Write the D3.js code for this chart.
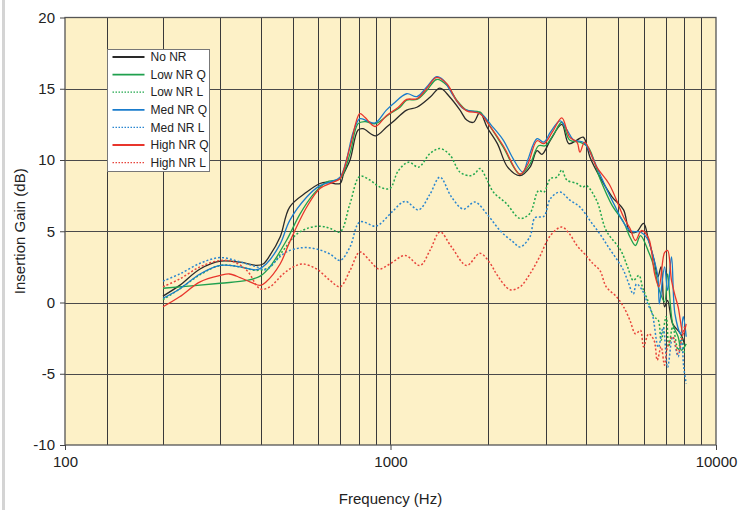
<!DOCTYPE html>
<html>
<head>
<meta charset="utf-8">
<script src="https://cdn.jsdelivr.net/npm/d3@7"></script>
<style>
  body { margin: 0; background: #fff; }
  svg { display: block; font-family: "Liberation Sans", Arial, sans-serif; }
</style>
</head>
<body>
<div id="container"><svg></svg></div>
<script>
const width = 752, height = 510;

// tick labels
const xTicks = [100, 1000, 10000];
const yTicks = [-10, -5, 0, 5, 10, 15, 20];
const xGrid = [134.6, 200, 300, 400, 500, 600, 700, 800, 900, 1000,
               2000, 3000, 4000, 5000, 6000, 7000, 8000, 9000];

// series: [frequency (Hz), insertion gain (dB)]
const noNR = [[200,0.45],[225,1.2],[260,2.35],[300,2.9],[345,2.83],[388,2.6],[406,2.7],[426,3.3],[458,4.6],[490,6.7],[553,7.75],[607,8.35],[636,8.45],[700,8.35],[717,9.0],[751,10.0],[795,12.1],[823,12.2],[900,11.7],[971,12.3],[1020,12.7],[1121,13.5],[1205,13.7],[1322,14.4],[1419,15.05],[1523,14.4],[1635,13.5],[1714,12.8],[1800,12.65],[1883,13.35],[1980,12.3],[2130,11.15],[2290,9.5],[2499,8.9],[2683,9.5],[2820,10.65],[2920,10.4],[3100,11.4],[3360,12.5],[3530,11.15],[3740,11.4],[3910,11.6],[4100,10.2],[4400,8.8],[4800,7.4],[5200,6.5],[5440,4.95],[5700,4.95],[5990,5.55],[6210,4.35],[6450,3.0],[6630,1.8],[6780,2.5],[6950,-0.3],[7100,0.15],[7360,-1.5],[7790,-2.2],[8000,-2.9]];

const lowQ = [[200,1.0],[300,1.35],[362,1.55],[398,1.85],[426,2.5],[479,4.35],[527,6.2],[580,7.6],[636,8.45],[700,8.7],[751,10.45],[795,12.55],[834,12.7],[897,12.55],[995,13.25],[1070,13.7],[1121,14.2],[1205,14.25],[1290,14.85],[1386,15.65],[1490,15.25],[1598,14.2],[1714,13.5],[1883,13.35],[2030,12.3],[2220,10.9],[2500,9.0],[2680,9.7],[2850,11.0],[2990,11.0],[3170,11.8],[3360,12.65],[3550,11.4],[3820,11.25],[4050,10.9],[4400,8.7],[4800,6.8],[5200,5.65],[5440,4.6],[5660,4.0],[5860,4.7],[6210,3.55],[6450,2.5],[6700,0.85],[6950,0.05],[7100,2.0],[7360,-1.5],[7650,-2.4],[7830,-3.35],[8100,-2.9]];

const lowL = [[200,0.2],[225,0.95],[260,1.95],[300,2.6],[345,2.5],[388,2.25],[426,2.5],[468,3.65],[515,4.8],[564,5.25],[614,5.35],[652,5.2],[700,4.95],[751,6.95],[805,8.85],[863,8.6],[928,8.1],[995,8.0],[1057,9.25],[1137,9.85],[1220,9.5],[1322,10.45],[1419,10.8],[1523,10.35],[1635,9.15],[1754,8.9],[1817,9.05],[1883,9.4],[1980,8.6],[2070,7.75],[2270,6.95],[2500,5.9],[2680,6.25],[2850,7.85],[2960,7.75],[3100,8.7],[3250,8.8],[3360,9.3],[3480,8.6],[3740,8.35],[3890,8.1],[4000,8.2],[4300,7.15],[4600,5.05],[5100,3.65],[5350,2.5],[5570,1.55],[5800,1.9],[5940,1.1],[6170,0.15],[6450,-1.0],[6650,-1.25],[6780,-2.65],[7030,-1.0],[7160,-3.1],[7360,-1.7],[7650,-3.35],[7830,-2.4],[8000,-3.6]];

const medQ = [[200,0.3],[225,0.95],[260,2.0],[300,2.6],[345,2.5],[388,2.3],[415,2.7],[458,4.1],[490,5.75],[553,7.4],[607,8.2],[652,8.45],[700,8.8],[732,10.0],[768,11.95],[805,12.9],[846,12.75],[897,12.6],[971,13.5],[1020,13.95],[1121,14.65],[1205,14.45],[1290,15.1],[1386,15.85],[1455,15.6],[1560,14.5],[1675,13.6],[1840,13.35],[1930,13.1],[2030,12.5],[2220,11.4],[2380,10.1],[2550,9.15],[2640,10.0],[2820,11.5],[2960,11.25],[3100,11.95],[3320,12.75],[3490,12.1],[3650,11.4],[3910,11.25],[4100,10.55],[4400,9.0],[4800,7.15],[5440,5.05],[5860,4.95],[6150,4.5],[6450,3.0],[6630,1.8],[6700,-0.1],[6950,2.5],[7100,0.85],[7300,3.2],[7480,-0.8],[7790,-2.2],[7930,-1.0],[8100,-2.4]];

const medL = [[200,1.5],[225,2.0],[260,2.75],[300,3.15],[345,2.85],[388,2.5],[415,2.3],[445,2.95],[479,3.55],[538,3.85],[593,3.75],[652,3.4],[700,2.95],[751,3.9],[805,5.65],[897,5.35],[928,5.5],[1020,6.45],[1110,7.1],[1220,6.5],[1322,7.6],[1419,8.8],[1540,7.4],[1675,6.55],[1817,7.05],[1980,6.2],[2170,5.05],[2380,4.25],[2500,3.9],[2680,4.6],[2780,5.95],[2960,6.05],[3100,7.3],[3320,7.75],[3550,7.2],[3820,6.7],[4100,5.75],[4400,4.8],[4700,3.8],[5000,2.9],[5200,2.25],[5350,1.55],[5570,0.6],[5700,1.3],[5940,0.85],[6170,-0.1],[6370,-0.8],[6650,-3.15],[6880,-1.75],[7100,-4.55],[7360,-2.4],[7650,-3.8],[7830,-2.65],[7960,-4.55],[8100,-5.7]];

const highQ = [[200,-0.3],[225,0.4],[260,1.45],[300,1.9],[320,2.0],[345,1.75],[370,1.45],[398,1.2],[415,1.45],[458,2.7],[490,4.25],[553,6.7],[607,8.0],[668,8.45],[700,8.7],[751,10.9],[805,13.25],[834,13.0],[897,12.35],[971,13.1],[1057,13.7],[1121,14.25],[1205,14.3],[1290,15.0],[1386,15.8],[1490,15.35],[1598,14.15],[1714,13.45],[1883,13.25],[2030,12.3],[2220,11.0],[2500,9.0],[2640,9.7],[2820,11.35],[2960,11.15],[3140,11.95],[3360,12.95],[3550,11.6],[3740,11.25],[3820,10.55],[3950,11.25],[4300,9.5],[4700,8.3],[5200,6.0],[5440,5.2],[5660,4.35],[5900,5.05],[6210,4.5],[6480,2.0],[6680,1.1],[6950,3.5],[7100,3.65],[7300,1.55],[7480,0.5],[7650,-0.3],[7930,-2.2],[8100,-1.5]];

const highL = [[200,1.1],[225,1.65],[260,2.5],[300,2.95],[330,2.85],[362,2.25],[398,0.95],[426,1.1],[468,2.0],[503,2.5],[538,2.7],[593,2.35],[652,1.55],[700,1.1],[751,2.25],[805,3.55],[863,2.95],[920,2.35],[995,2.7],[1110,3.3],[1232,2.6],[1322,3.65],[1419,4.95],[1540,3.9],[1714,2.6],[1883,3.45],[2030,2.7],[2130,1.9],[2330,0.9],[2500,1.1],[2680,2.0],[2870,3.2],[3100,4.7],[3360,5.3],[3550,4.8],[3740,4.0],[3950,3.4],[4200,2.7],[4400,2.25],[4600,1.1],[4950,0.4],[5200,-0.3],[5440,-1.25],[5660,-2.2],[5860,-1.95],[5990,-3.1],[6210,-2.2],[6450,-2.65],[6600,-4.05],[6780,-3.1],[6950,-4.4],[7100,-3.1],[7360,-2.4],[7650,-3.6],[7830,-2.65],[8000,-1.7]];

const seriesNames = ['No NR', 'Low NR Q', 'Low NR L', 'Med NR Q', 'Med NR L', 'High NR Q', 'High NR L'];
const seriesData = [noNR, lowQ, lowL, medQ, medL, highQ, highL];
const seriesColors = ['#2a2a2a', '#1fa04e', '#22a84e', '#1a7ccc', '#2a86d0', '#e8352c', '#e8453c'];
const seriesDash = [null, null, '2,2', null, '2,2', null, '2,2'];

let padding = { left: 65, right: 36, top: 17.5, bottom: 65 };

let svg = d3.select('#container').select('svg')
    .attr('width', width)
    .attr('height', height);

// grey strip on the left edge
svg.append('rect')
    .attr('x', 2).attr('y', 0)
    .attr('width', 3).attr('height', height)
    .attr('fill', '#d4d4d4');

let x = d3.scaleLog()
    .domain([100, 10000])
    .range([padding.left, width - padding.right]);
let y = d3.scaleLinear()
    .domain([-10, 20])
    .range([height - padding.bottom, padding.top]);

// plot background
svg.append('rect')
    .attr('x', x(100)).attr('y', y(20))
    .attr('width', x(10000) - x(100))
    .attr('height', y(-10) - y(20))
    .attr('fill', '#fdf1c7');

// grid
let grid = svg.append('g');
grid.selectAll('line.v')
    .data(xGrid)
    .enter().append('line')
    .attr('x1', d => Math.round(x(d)) + 0.5).attr('x2', d => Math.round(x(d)) + 0.5)
    .attr('y1', y(20)).attr('y2', y(-10))
    .attr('stroke', '#3a3a3a').attr('stroke-width', 1);
grid.selectAll('line.h')
    .data(yTicks.filter(d => d > -10 && d < 20))
    .enter().append('line')
    .attr('x1', x(100)).attr('x2', x(10000))
    .attr('y1', d => Math.round(y(d)) + 0.5).attr('y2', d => Math.round(y(d)) + 0.5)
    .attr('stroke', '#4a4a4a').attr('stroke-width', 1.2);

// frame
svg.append('rect')
    .attr('x', x(100)).attr('y', y(20))
    .attr('width', x(10000) - x(100))
    .attr('height', y(-10) - y(20))
    .attr('fill', 'none')
    .attr('stroke', '#555').attr('stroke-width', 1.3);

// axes
let axis_x = d3.axisBottom(x)
    .tickValues(xTicks)
    .tickFormat(d => d)
    .tickSize(5)
    .tickPadding(6);
let gx = svg.append('g')
    .attr('transform', `translate(0, ${y(-10)})`)
    .call(axis_x)
    .attr('font-family', '"Liberation Sans", Arial, sans-serif')
    .attr('font-size', 15);
gx.select('.domain').remove();
gx.selectAll('line').attr('stroke', '#444');
gx.selectAll('text').attr('fill', '#222');

let axis_y = d3.axisLeft(y)
    .tickValues(yTicks)
    .tickFormat(d => d)
    .tickSize(5)
    .tickPadding(5);
let gy = svg.append('g')
    .attr('transform', `translate(${x(100)}, 0)`)
    .call(axis_y)
    .attr('font-family', '"Liberation Sans", Arial, sans-serif')
    .attr('font-size', 15);
gy.select('.domain').remove();
gy.selectAll('line').attr('stroke', '#444');
gy.selectAll('text').attr('fill', '#222');

// axis titles
svg.append('text')
    .attr('x', (x(100) + x(10000)) / 2)
    .attr('y', 504)
    .attr('text-anchor', 'middle')
    .attr('font-size', 15)
    .attr('fill', '#222')
    .text('Frequency (Hz)');
svg.append('text')
    .attr('transform', `translate(25, ${(y(20) + y(-10)) / 2}) rotate(-90)`)
    .attr('text-anchor', 'middle')
    .attr('font-size', 15)
    .attr('fill', '#222')
    .text('Insertion Gain (dB)');

// lines
let line = d3.line()
    .x(d => x(d[0]))
    .y(d => y(d[1]))
    .curve(d3.curveCatmullRom.alpha(0.5));

svg.append('g')
    .selectAll('path')
    .data(seriesData)
    .enter().append('path')
    .attr('d', d => line(d))
    .attr('fill', 'none')
    .attr('stroke', (d, i) => seriesColors[i])
    .attr('stroke-width', (d, i) => seriesDash[i] ? 1.5 : 1.3)
    .attr('stroke-dasharray', (d, i) => seriesDash[i]);

// legend
let legend = svg.append('g').attr('transform', 'translate(107.5, 49.5)');
legend.append('rect')
    .attr('width', 102).attr('height', 122)
    .attr('fill', '#fff')
    .attr('stroke', '#777').attr('stroke-width', 1);
let rows = legend.selectAll('g.row')
    .data(seriesNames)
    .enter().append('g')
    .attr('transform', (d, i) => `translate(0, ${7.5 + i * 17.6})`);
rows.append('line')
    .attr('x1', 5).attr('x2', 37)
    .attr('stroke', (d, i) => seriesColors[i])
    .attr('stroke-width', (d, i) => seriesDash[i] ? 1.3 : 1.8)
    .attr('stroke-dasharray', (d, i) => seriesDash[i] ? '1.5,1.5' : null);
rows.append('text')
    .attr('x', 43).attr('dy', '0.35em')
    .attr('font-size', 12)
    .attr('fill', '#222')
    .text(d => d);
</script>
</body>
</html>
